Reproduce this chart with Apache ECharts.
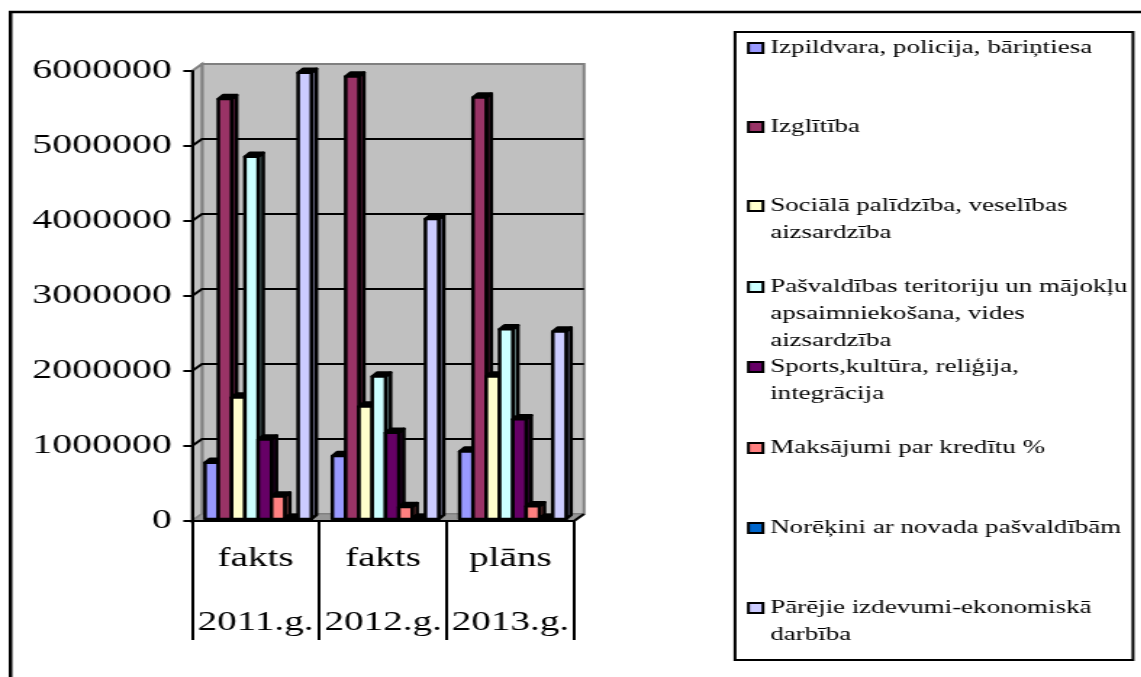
<!DOCTYPE html>
<html>
<head>
<meta charset="utf-8">
<script src="https://cdn.jsdelivr.net/npm/echarts@6/dist/echarts.min.js"></script>
<style>
  html, body { margin: 0; padding: 0; background: #fff; overflow: hidden; }
  /* the source picture is stretched sideways, so the whole chart is too */
  #chart { width: 787px; height: 677px; transform: scaleX(1.45); transform-origin: 0 0; }
</style>
</head>
<body>
<div id="chart"></div>
<script>
const years = ["fakts\n2011.g.", "fakts\n2012.g.", "plāns\n2013.g."];
const yTicks = [0, 1000000, 2000000, 3000000, 4000000, 5000000, 6000000];

const names = [
  "Izpildvara, policija, bāriņtiesa",
  "Izglītība",
  "Sociālā palīdzība, veselības\naizsardzība",
  "Pašvaldības teritoriju un mājokļu\napsaimniekošana, vides\naizsardzība",
  "Sports,kultūra, reliģija,\nintegrācija",
  "Maksājumi par kredītu %",
  "Norēķini ar novada pašvaldībām",
  "Pārējie izdevumi-ekonomiskā\ndarbība"
];

const izpildvara = [750000, 840000, 900000];
const izglitiba = [5600000, 5900000, 5620000];
const sociala = [1620000, 1500000, 1900000];
const pasvaldibas = [4830000, 1900000, 2530000];
const sports = [1060000, 1150000, 1330000];
const maksajumi = [300000, 160000, 170000];
const norekini = [5000, 5000, 5000];
const parejie = [5950000, 4000000, 2500000];

const values = [izpildvara, izglitiba, sociala, pasvaldibas, sports, maksajumi, norekini, parejie];
const colors = ["#9999ff", "#993366", "#ffffcc", "#ccffff", "#660066", "#ff8080", "#0066cc", "#ccccff"];

const S = 1.45; // horizontal stretch of the page
const font = "Liberation Serif";
const legendCenters = [48, 127, 206, 287, 367, 448, 528, 608];
const legendLine = 27;

function darker(hex) {
  let n = parseInt(hex.slice(1), 16);
  return "rgb(" + (n >> 16) / 2 + "," + ((n >> 8) & 255) / 2 + "," + (n & 255) / 2 + ")";
}

// back wall, side wall, floor and gridlines, drawn behind the bars
function renderWall(params, api) {
  let c = params.coordSys,
    dx = 10 / S,
    dy = 7,
    l = c.x,
    r = c.x + c.width,
    t = c.y,
    b = c.y + c.height,
    children = [];
  let wall = { fill: "#c0c0c0", stroke: "#808080", lineWidth: 2 };
  children.push({
    type: "polygon",
    shape: { points: [[l + dx, t - dy], [r + dx, t - dy], [r + dx, b - dy], [l + dx, b - dy]] },
    style: wall
  });
  children.push({
    type: "polygon",
    shape: { points: [[l, t], [l + dx, t - dy], [l + dx, b - dy], [l, b]] },
    style: wall
  });
  children.push({
    type: "polygon",
    shape: { points: [[l, b], [l + dx, b - dy], [r + dx, b - dy], [r, b]] },
    style: { fill: "#969696", stroke: "#808080", lineWidth: 1 }
  });
  for (let i = 1; i < yTicks.length - 1; i++) {
    let y = api.coord([0, yTicks[i]])[1];
    children.push({
      type: "polyline",
      shape: { points: [[l, y], [l + dx, y - dy], [r + dx, y - dy]] },
      style: { fill: null, stroke: "#000", lineWidth: 2 }
    });
  }
  children.push({
    type: "line",
    shape: { x1: r, y1: b, x2: r + dx, y2: b - dy },
    style: { stroke: "#000", lineWidth: 2 }
  });
  return { type: "group", children: children };
}

function barRenderer(seriesIndex) {
  return function (params, api) {
    let band = api.size([1, 0])[0],
      w = 13.3 / S,
      d = 5 / S,
      rise = 4,
      base = api.coord([api.value(0), 0]),
      top = api.coord([api.value(0), api.value(1)]),
      x = base[0] - band / 2 + 13 / S + seriesIndex * w,
      y0 = base[1] - 2,
      y1 = top[1] - 2,
      fill = colors[seriesIndex],
      shade = darker(fill),
      edge = { stroke: "#000", lineWidth: 2.5, lineJoin: "round" };
    return {
      type: "group",
      children: [
        {
          type: "polygon",
          shape: { points: [[x + w, y1], [x + w + d, y1 - rise], [x + w + d, y0 - rise], [x + w, y0]] },
          style: Object.assign({ fill: shade }, edge)
        },
        {
          type: "polygon",
          shape: { points: [[x, y1], [x + d, y1 - rise], [x + w + d, y1 - rise], [x + w, y1]] },
          style: Object.assign({ fill: "#000" }, edge)
        },
        {
          type: "rect",
          shape: { x: x, y: y1, width: w, height: y0 - y1 },
          style: Object.assign({ fill: fill }, edge)
        }
      ]
    };
  };
}

let series = [
  {
    type: "custom",
    z: 1,
    silent: true,
    renderItem: renderWall,
    data: [[0, 0]]
  }
];
for (let i = 0; i < names.length; i++) {
  series.push({
    type: "custom",
    name: names[i],
    z: 2,
    itemStyle: { color: colors[i] },
    renderItem: barRenderer(i),
    encode: { x: 0, y: 1 },
    data: values[i].map(function (v, k) { return [k, v]; })
  });
}

// one legend per entry: the rows in the source are unevenly spaced.
// blank lines in front keep the marker level with the first text line
let legends = names.map(function (name, i) {
  let lines = name.split("\n").length;
  return {
    data: [name],
    left: 747 / S,
    top: legendCenters[i] - ((2 * lines - 1) * legendLine) / 2,
    orient: "vertical",
    padding: 0,
    icon: "rect",
    itemWidth: 10,
    itemHeight: 10,
    selectedMode: false,
    itemStyle: { borderColor: "#000", borderWidth: 2 },
    formatter: function (n) {
      return "\n".repeat(n.split("\n").length - 1) + n;
    },
    textStyle: {
      fontFamily: font,
      fontSize: 18.6,
      color: "#000",
      lineHeight: legendLine
    }
  };
});

let myChart = echarts.init(document.getElementById("chart"), null, { width: 787, height: 677 }),
  option = {
    backgroundColor: "#fff",
    animation: false,
    legend: legends,
    grid: { left: 192 / S, top: 71, width: 382 / S, height: 450 },
    xAxis: {
      type: "category",
      data: years,
      z: 5,
      axisLine: { lineStyle: { color: "#000", width: 2 } },
      axisTick: { show: true, length: 119, lineStyle: { color: "#000", width: 2 } },
      axisLabel: {
        interval: 0,
        margin: 6,
        fontFamily: font,
        fontSize: 27,
        lineHeight: 64,
        color: "#000"
      }
    },
    yAxis: {
      type: "value",
      min: 0,
      max: 6000000,
      interval: 1000000,
      z: 5,
      splitLine: { show: false },
      axisLine: { show: true, lineStyle: { color: "#000", width: 2 } },
      axisTick: { show: true, length: 6, lineStyle: { color: "#000", width: 2 } },
      axisLabel: {
        margin: 14,
        fontFamily: font,
        fontSize: 27.5,
        color: "#000",
        formatter: function (v) { return String(v); }
      }
    },
    series: series,
    graphic: [
      {
        type: "polyline",
        silent: true,
        shape: { points: [[10.5 / S, 677], [10.5 / S, 12], [787, 12]] },
        style: { fill: null, stroke: "#000", lineWidth: 2.5 }
      },
      {
        type: "rect",
        silent: true,
        shape: { x: 735 / S, y: 32, width: 398 / S, height: 628 },
        style: { fill: null, stroke: "#000", lineWidth: 2 }
      }
    ]
  };

myChart.setOption(option);
</script>
</body>
</html>
